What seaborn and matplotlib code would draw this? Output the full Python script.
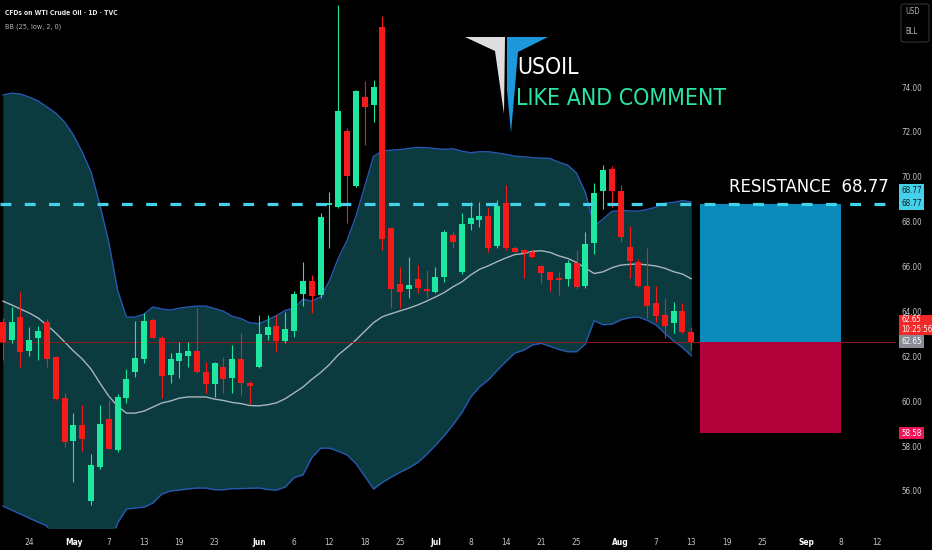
import numpy as np
import pandas as pd
import matplotlib
matplotlib.use("Agg")
import matplotlib.pyplot as plt
import seaborn as sns
from matplotlib.patches import Rectangle, Polygon, FancyBboxPatch

# daily bars, index 0 = 24 Apr, last bar 75 = 13 Aug (WTI CFD, TVC)
bars = list(range(-3, 76))
opens = [63.54, 62.73, 63.76, 62.25, 62.80, 63.51, 61.98, 60.14, 58.22, 58.92,
         55.56, 57.08, 59.20, 57.82, 60.15, 61.31, 61.87, 63.62, 62.83, 61.19,
         61.78, 62.01, 62.24, 61.30, 60.75, 61.51, 61.05, 61.86, 60.83, 61.54,
         62.93, 63.35, 62.68, 63.15, 64.79, 65.35, 64.73, 68.74, 68.67, 72.04,
         69.60, 73.57, 73.20, 76.66, 67.70, 65.21, 64.98, 65.43, 64.98, 64.88,
         65.52, 67.40, 65.74, 67.89, 68.07, 68.25, 66.91, 68.82, 66.84, 66.74,
         66.63, 66.02, 65.74, 65.51, 65.43, 66.16, 65.13, 67.07, 69.37, 70.35,
         69.37, 66.88, 66.21, 65.15, 64.39, 63.84, 63.47, 64.02, 63.07]
highs = [63.71, 64.21, 64.88, 63.29, 63.35, 63.65, 62.00, 60.38, 59.46, 59.83,
         57.65, 59.83, 60.05, 60.30, 61.42, 63.59, 63.94, 63.71, 62.90, 62.13,
         62.65, 62.65, 64.14, 61.76, 61.76, 61.98, 62.50, 63.06, 60.90, 63.84,
         63.86, 63.84, 63.99, 64.90, 66.21, 65.62, 68.37, 69.33, 77.65, 72.16,
         73.86, 74.27, 74.31, 77.16, 67.75, 65.99, 66.44, 66.07, 65.85, 65.99,
         67.63, 67.55, 68.37, 68.89, 68.89, 68.59, 68.96, 69.63, 66.90, 66.80,
         66.74, 66.05, 65.78, 65.77, 66.29, 66.74, 67.55, 69.74, 70.54, 70.48,
         69.63, 67.81, 66.35, 66.81, 65.15, 64.58, 64.43, 64.36, 63.32]
lows = [61.83, 62.60, 61.54, 62.01, 61.83, 61.54, 60.05, 57.94, 56.41, 57.79,
        55.37, 57.00, 57.85, 57.75, 59.93, 61.09, 61.69, 62.80, 60.13, 60.80,
        61.02, 61.54, 61.25, 60.35, 60.20, 60.35, 60.35, 60.27, 59.87, 61.50,
        62.73, 62.20, 62.58, 62.87, 64.26, 63.92, 64.60, 66.81, 68.60, 67.93,
        69.55, 71.42, 72.45, 66.74, 64.14, 64.14, 64.58, 64.81, 64.58, 64.81,
        65.32, 66.81, 65.67, 67.63, 67.77, 66.66, 66.81, 66.74, 66.59, 65.47,
        66.38, 65.27, 64.91, 64.73, 65.13, 65.02, 65.05, 66.56, 68.56, 68.65,
        67.11, 65.47, 65.10, 63.69, 63.54, 62.80, 63.02, 63.02, 62.28]
closes = [62.62, 63.51, 62.20, 62.73, 63.14, 61.87, 60.10, 58.17, 58.92, 58.31,
          57.14, 58.97, 57.87, 60.20, 60.99, 61.94, 63.59, 62.83, 61.13, 61.88,
          62.13, 62.24, 61.29, 60.76, 61.69, 61.01, 61.87, 60.83, 60.68, 62.99,
          63.30, 62.68, 63.20, 64.78, 65.35, 64.69, 68.22, 68.84, 72.93, 70.03,
          73.82, 73.12, 73.99, 67.21, 64.98, 64.88, 65.18, 65.03, 64.92, 65.52,
          67.53, 67.11, 67.88, 68.15, 68.25, 66.84, 68.71, 66.81, 66.66, 66.59,
          66.41, 65.71, 65.40, 65.40, 66.16, 65.07, 67.00, 69.29, 70.31, 69.37,
          67.30, 66.25, 65.15, 64.25, 63.80, 63.35, 64.02, 63.10, 62.65]

# BB (25, low, 2, 0): the first 24 bars have no history here
upper_early = [73.64, 73.73, 73.69, 73.55, 73.38, 73.11, 72.84, 72.44, 71.86, 71.10,
               70.21, 68.74, 67.10, 64.95, 63.75, 63.75, 63.88, 64.20, 64.11, 64.06,
               64.15, 64.20, 64.24, 64.24]
basis_early = [64.46, 64.29, 64.11, 63.93, 63.71, 63.39, 63.04, 62.64, 62.24, 61.88,
               61.43, 60.81, 60.23, 59.78, 59.47, 59.47, 59.56, 59.74, 59.92, 60.01,
               60.14, 60.19, 60.19, 60.19]
lower_early = [55.33, 55.15, 54.97, 54.79, 54.61, 54.44, 53.20, 52.90, 52.60, 52.70,
               52.70, 52.90, 53.30, 54.57, 55.19, 55.24, 55.28, 55.46, 55.86, 56.00,
               56.04, 56.09, 56.13, 56.13]

tick_pos = [0, 5, 9, 13, 17, 21, 26, 30, 34, 38, 42, 46, 50, 54, 58, 62, 67, 71,
            75, 79, 83, 88, 92, 96]
tick_labels = ["24", "May", "7", "13", "19", "23", "Jun", "6", "12", "18", "25",
               "Jul", "8", "14", "21", "25", "Aug", "7", "13", "19", "25", "Sep",
               "8", "12"]
months = ["May", "Jun", "Jul", "Aug", "Sep"]
price_ticks = [56, 58, 60, 62, 64, 66, 68, 70, 72, 74]

resistance = 68.77
last_price = 62.65
stop_price = 58.58
box_start, box_end = 76, 92

GREEN = "#1ee8a0"
RED = "#f71a1a"
FILL = "#0b3a3f"
BAND = "#2858b0"
BASIS = "#a8b6ba"
CYAN = "#43d2ea"

df = pd.DataFrame({"bar": bars, "open": opens, "high": highs, "low": lows, "close": closes})
roll = df["low"].rolling(25)
df["basis"] = roll.mean()
df["upper"] = df["basis"] + 2 * roll.std(ddof=0)
df["lower"] = df["basis"] - 2 * roll.std(ddof=0)
n = len(basis_early)
df.loc[:n - 1, "basis"] = basis_early
df.loc[:n - 1, "upper"] = upper_early
df.loc[:n - 1, "lower"] = lower_early

sns.set_theme(style="dark", rc={"axes.facecolor": "black", "figure.facecolor": "black"})
plt.rcParams["font.family"] = ["DejaVu Sans"]
plt.rcParams["font.stretch"] = "condensed"

W, H = 932, 550
fig = plt.figure(figsize=(W / 100, H / 100), dpi=100)
ax = fig.add_axes([0, 22 / H, 896 / W, 528 / H])
ax.set_facecolor("black")
for s in ax.spines.values():
    s.set_visible(False)
ax.grid(False)

# bollinger band
ax.fill_between(df["bar"], df["lower"], df["upper"], color=FILL, lw=0, zorder=1)
sns.lineplot(data=df, x="bar", y="upper", ax=ax, color=BAND, lw=1, zorder=2)
sns.lineplot(data=df, x="bar", y="lower", ax=ax, color=BAND, lw=1, zorder=2)
sns.lineplot(data=df, x="bar", y="basis", ax=ax, color=BASIS, lw=1, zorder=2)

# candles
up = df["close"] >= df["open"]
cols = np.where(up, GREEN, RED)
ax.vlines(df["bar"], df["low"], df["high"], colors=cols, lw=0.8, zorder=3)
body = (df["close"] - df["open"]).abs().clip(lower=0.06)
ax.bar(df["bar"], body, bottom=df[["open", "close"]].min(axis=1), width=0.68,
       color=cols, lw=0, zorder=4)

# last price line, resistance, long/short boxes
ax.axhline(last_price, color="#8c1a1a", lw=0.7, zorder=2)
ax.add_patch(Rectangle((box_start, last_price), box_end - box_start, resistance - last_price,
                       color="#0a8bbc", lw=0, zorder=5))
ax.add_patch(Rectangle((box_start, stop_price), box_end - box_start, last_price - stop_price,
                       color="#b2003a", lw=0, zorder=5))
ax.axhline(resistance, color=CYAN, lw=2.3, dashes=(3.4, 4.2), zorder=6)
ax.text(79.3, 69.55, "RESISTANCE  68.77", color="white", fontsize=13.2, va="center", zorder=7)

ax.set_xlim(-3.32, 98.19)
ax.set_ylim(54.35, 77.88)
ax.set_xlabel("")
ax.set_ylabel("")

ax.set_xticks(tick_pos)
ax.set_xticklabels(tick_labels)
ax.tick_params(axis="x", length=0, pad=7, labelsize=6, labelcolor="#c3c6cd")
for lbl in ax.get_xticklabels():
    if lbl.get_text() in months:
        lbl.set_fontweight("bold")
        lbl.set_color("white")

ax.yaxis.tick_right()
ax.set_yticks(price_ticks)
ax.set_yticklabels([f"{v:.2f}" for v in price_ticks])
ax.tick_params(axis="y", length=0, pad=3.6, labelsize=5.8, labelcolor="#c3c6cd")


def fx(x):
    return x / W


def fy(y):
    return 1 - y / H


def price_tag(y0, y1, text, bg, fg, x1=924):
    fig.patches.append(Rectangle((fx(899), fy(y1)), fx(x1 - 899), (y1 - y0) / H,
                                 transform=fig.transFigure, color=bg, lw=0, zorder=5))
    fig.text(fx(901), fy((y0 + y1) / 2), text, color=fg, fontsize=5.8, va="center", zorder=6)


price_tag(184, 197, "68.77", CYAN, "#0c1a20")
price_tag(197, 210, "68.77", CYAN, "#0c1a20")
fig.patches.append(Rectangle((fx(899), fy(335)), fx(33), 20 / H, transform=fig.transFigure,
                             color="#f22727", lw=0, zorder=5))
fig.text(fx(901), fy(320), "62.65", color="white", fontsize=5.6, va="center", zorder=6)
fig.text(fx(901), fy(329.5), "10:25:56", color="white", fontsize=5.6, va="center", zorder=6)
price_tag(335, 348, "62.65", "#8a8d96", "white")
price_tag(427, 439, "58.58", "#ef1458", "white")

# USD / BLL scale button
fig.patches.append(FancyBboxPatch((fx(901), fy(42)), fx(28), 38 / H,
                                  boxstyle="round,pad=0,rounding_size=0.004",
                                  transform=fig.transFigure, facecolor="black",
                                  edgecolor="#30333c", lw=0.8, zorder=5))
fig.text(fx(905), fy(12), "USD", color="#b2b5be", fontsize=5.5, va="center", zorder=6)
fig.text(fx(905), fy(32), "BLL", color="#b2b5be", fontsize=5.5, va="center", zorder=6)

# header
fig.text(fx(5), fy(13), "CFDs on WTI Crude Oil · 1D · TVC", color="#e6e8ee",
         fontsize=4.9, va="center", fontweight="bold")
fig.text(fx(5), fy(27), "BB (25, low, 2, 0)", color="#b2b5be", fontsize=5.2, va="center")

# logo
white_part = [(465, 37), (505, 37), (504, 114), (495, 51)]
blue_part = [(507, 37), (548, 37), (518, 52), (511, 133), (507, 90)]
fig.patches.append(Polygon([(fx(x), fy(y)) for x, y in white_part], closed=True,
                           transform=fig.transFigure, color="#dedede", lw=0, zorder=5))
fig.patches.append(Polygon([(fx(x), fy(y)) for x, y in blue_part], closed=True,
                           transform=fig.transFigure, color="#1d98dc", lw=0, zorder=5))
fig.text(fx(517), fy(68), "USOIL", color="white", fontsize=16.5, va="center")
fig.text(fx(516), fy(99), "LIKE AND COMMENT", color="#2ae6a2", fontsize=16.6, va="center")

fig.savefig("out.png", dpi=100, facecolor="black")
